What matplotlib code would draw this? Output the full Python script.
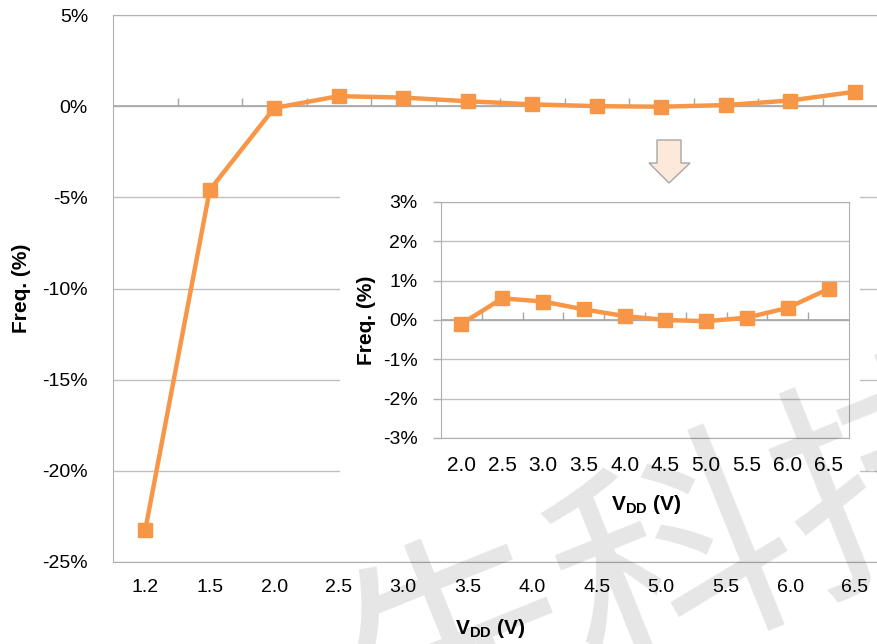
import numpy as np
import matplotlib
matplotlib.use("Agg")
from matplotlib import pyplot as plt
from matplotlib import patches
from matplotlib.ticker import FuncFormatter

plt.rcParams['font.family'] = ['Liberation Sans', 'Noto Sans CJK SC', 'DejaVu Sans']
plt.rcParams['mathtext.fontset'] = 'custom'
plt.rcParams['mathtext.rm'] = 'Liberation Sans'
plt.rcParams['mathtext.bf'] = 'Liberation Sans:bold'

# 数据 (频率偏差 vs VDD)
vddMain = ['1.2', '1.5', '2.0', '2.5', '3.0', '3.5', '4.0', '4.5', '5.0', '5.5', '6.0', '6.5']
freqMain = [-23.25, -4.6, -0.1, 0.55, 0.47, 0.27, 0.1, 0.0, -0.03, 0.06, 0.31, 0.79]
vddInset = ['2.0', '2.5', '3.0', '3.5', '4.0', '4.5', '5.0', '5.5', '6.0', '6.5']
freqInset = [-0.1, 0.55, 0.47, 0.27, 0.1, 0.0, -0.03, 0.06, 0.31, 0.79]
mainTicks = [-25, -20, -15, -10, -5, 0, 5]
insetTicks = [-3, -2, -1, 0, 1, 2, 3]

ORANGE = '#f79646'
GRID = '#c0c0c0'
SPINE = '#b0b0b0'
AXLINE = '#a6a6a6'
W, H = 877, 644

def fx(px):
    return px / W

def fy(py):
    return 1 - py / H

pctFmt = FuncFormatter(lambda v, p: f'{v:.0f}%')
vddLabel = r'$\mathbf{V_{DD}}$ (V)'

fig = plt.figure(figsize=(W / 100, H / 100), dpi=100)

# 主图
ax = fig.add_axes([fx(113), fy(562), 774 / W, 547 / H])
x = np.arange(len(vddMain))
ax.set_xlim(-0.5, len(vddMain) - 0.5)
ax.set_ylim(mainTicks[0], mainTicks[-1])
ax.plot(x, freqMain, color=ORANGE, lw=3.2, marker='s', ms=10, mec=ORANGE, zorder=4, clip_on=False)
ax.axhline(0, color=AXLINE, lw=1.2, zorder=2)
# 0%线上的分类刻度
ax.plot(x[:-1] + 0.5, np.zeros(len(x) - 1), ls='none', marker=2, ms=6, mew=1, color=AXLINE, zorder=2)
ax.set_yticks(mainTicks)
ax.yaxis.set_major_formatter(pctFmt)
ax.set_xticks(x, vddMain)
ax.tick_params(axis='x', length=0, pad=12, labelsize=14)
ax.tick_params(axis='y', length=0, pad=18, labelsize=14)
ax.grid(axis='y', color=GRID, lw=1)
ax.set_axisbelow(True)
for s in ['top', 'left', 'bottom']:
    ax.spines[s].set_color(SPINE)
ax.spines['right'].set_visible(False)

fig.text(fx(22), fy(288), 'Freq. (%)', rotation=90, ha='center', va='center', fontsize=15, fontweight='bold')
fig.text(fx(490), fy(628), vddLabel, ha='center', va='center', fontsize=15, fontweight='bold')

# 小图的白色背景
fig.add_artist(patches.Rectangle((fx(340), fy(530)), 520 / W, 345 / H, transform=fig.transFigure,
                                 facecolor='white', edgecolor='none', zorder=1))

# 箭头
arrowPts = [(657, 140), (681, 140), (681, 163), (690, 163), (669, 183), (649, 163), (657, 163)]
fig.add_artist(patches.Polygon([(fx(a), fy(b)) for a, b in arrowPts], closed=True, transform=fig.transFigure,
                               facecolor='#fde9d9', edgecolor='#a6a6a6', lw=1, zorder=1))

# 小图
ia = fig.add_axes([fx(441), fy(438), 408 / W, 236 / H])
ia.set_zorder(2)
xi = np.arange(len(vddInset))
ia.set_xlim(-0.5, len(vddInset) - 0.5)
ia.set_ylim(insetTicks[0], insetTicks[-1])
ia.plot(xi, freqInset, color=ORANGE, lw=3.2, marker='s', ms=10, mec=ORANGE, zorder=4)
ia.axhline(0, color=AXLINE, lw=1.2, zorder=2)
ia.plot(xi[:-1] + 0.5, np.zeros(len(xi) - 1), ls='none', marker=2, ms=6, mew=1, color=AXLINE, zorder=2)
ia.set_yticks(insetTicks)
ia.yaxis.set_major_formatter(pctFmt)
ia.set_xticks(xi, vddInset)
ia.tick_params(axis='x', length=0, pad=13, labelsize=15)
ia.tick_params(axis='y', length=6, width=1, color=SPINE, pad=11, labelsize=14)
ia.grid(axis='y', color=GRID, lw=1)
ia.set_axisbelow(True)
for s in ia.spines.values():
    s.set_color(SPINE)

fig.text(fx(366), fy(320), 'Freq. (%)', rotation=90, ha='center', va='center', fontsize=15, fontweight='bold')
fig.text(fx(646), fy(505), vddLabel, ha='center', va='center', fontsize=15, fontweight='bold')

# 水印
fig.text(fx(680), fy(570), '先科技', fontsize=170, family=['Noto Sans CJK SC'], color='black', alpha=0.1,
         rotation=22, rotation_mode='anchor', ha='center', va='center', zorder=10)

fig.savefig('out.png', dpi=100)
